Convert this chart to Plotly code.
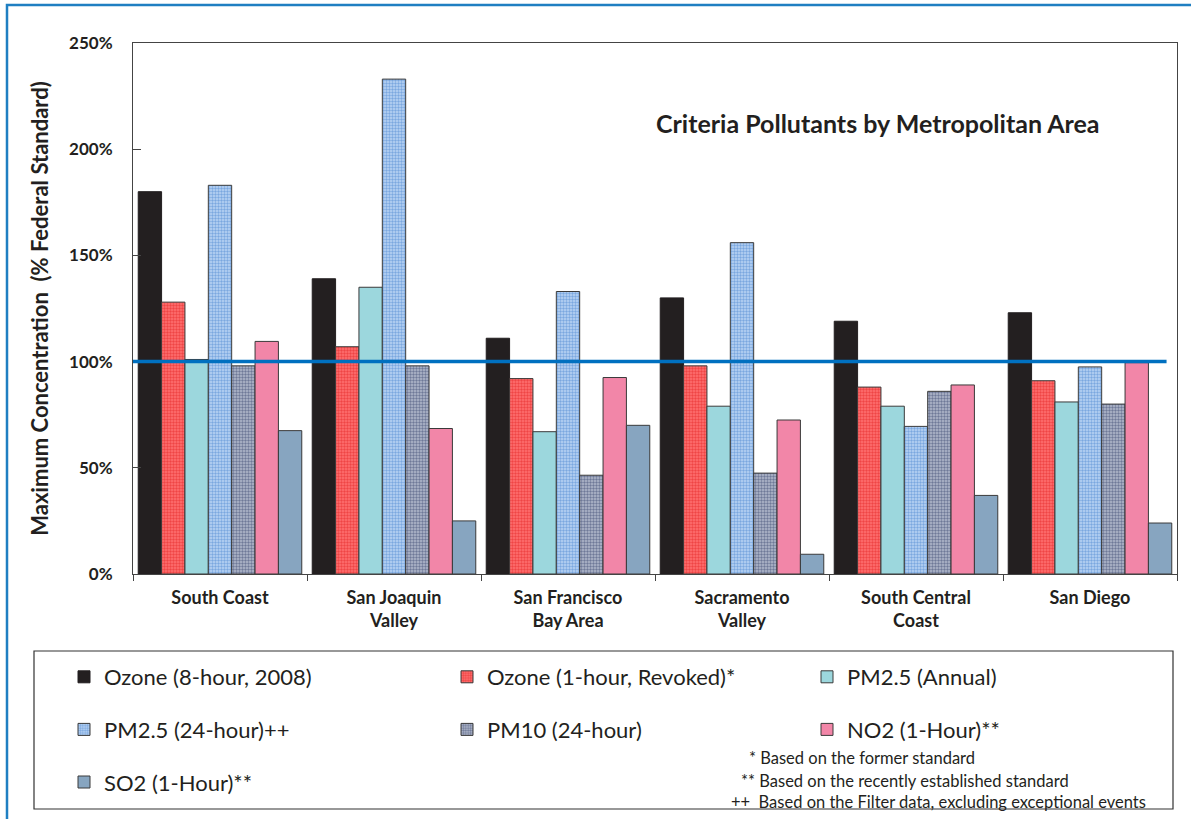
import plotly.graph_objects as go

categories = ["South Coast", "San Joaquin<br>Valley", "San Francisco<br>Bay Area",
              "Sacramento<br>Valley", "South Central<br>Coast", "San Diego"]

ozone_8hr = [180, 139, 111, 130, 119, 123]
ozone_1hr = [128, 107, 92, 98, 88, 91]
pm25_annual = [101, 135, 67, 79, 79, 81]
pm25_24hr = [183, 233, 133, 156, 69.5, 97.5]
pm10_24hr = [98, 98, 46.5, 47.5, 86, 80]
no2_1hr = [109.5, 68.5, 92.5, 72.5, 89, 99.5]
so2_1hr = [67.5, 25, 70, 9.3, 37, 24]

series_names = ["Ozone (8-hour, 2008)", "Ozone (1-hour, Revoked)*", "PM2.5 (Annual)",
                "PM2.5 (24-hour)++", "PM10 (24-hour)", "NO2 (1-Hour)**", "SO2 (1-Hour)**"]

standard_level = 100
y_tick_vals = [0, 50, 100, 150, 200, 250]
y_tick_text = ["0%", "50%", "100%", "150%", "200%", "250%"]

footnotes = ["* Based on the former standard",
             "** Based on the recently established standard",
             "++  Based on the Filter data, excluding exceptional events"]

TXT = "#231f20"
FONT = "Lato"
OUT = "#3a3a3a"

styles = [
    dict(color="#231f20", line=dict(color="#231f20", width=1)),
    dict(color="#ff5050", line=dict(color=OUT, width=1),
         pattern=dict(shape=".", fgcolor="#e01818", bgcolor="#ff7272", size=3, solidity=0.5)),
    dict(color="#9cd7dd", line=dict(color=OUT, width=1)),
    dict(color="#a8c8ee", line=dict(color=OUT, width=1),
         pattern=dict(shape=".", fgcolor="#3a78cc", bgcolor="#bcd6f3", size=3, solidity=0.5)),
    dict(color="#8a93b0", line=dict(color=OUT, width=1),
         pattern=dict(shape=".", fgcolor="#2c3864", bgcolor="#b3bbcd", size=3, solidity=0.5)),
    dict(color="#f286a8", line=dict(color=OUT, width=1)),
    dict(color="#87a5c0", line=dict(color=OUT, width=1)),
]
legend_of = ["legend", "legend2", "legend3", "legend", "legend2", "legend3", "legend"]
values = [ozone_8hr, ozone_1hr, pm25_annual, pm25_24hr, pm10_24hr, no2_1hr, so2_1hr]

fig = go.Figure()
for i, (name, vals) in enumerate(zip(series_names, values)):
    fig.add_trace(go.Bar(x=categories, y=vals, name=name, marker=styles[i],
                         legend=legend_of[i], legendgroup=f"g{i}"))

W, H = 1191, 819
L, R, T, B = 133, 14, 43, 245
pw, ph = W - L - R, H - T - B


def px(x):
    return (x - L) / pw


def py(y):
    return (H - B - y) / ph


leg_common = dict(orientation="v", xanchor="left", yanchor="top", traceorder="grouped",
                  tracegroupgap=21, font=dict(family=FONT, size=22, color=TXT),
                  bgcolor="rgba(0,0,0,0)", borderwidth=0, itemwidth=30)

fig.update_layout(
    width=W, height=H,
    margin=dict(l=L, r=R, t=T, b=B, autoexpand=False),
    paper_bgcolor="white", plot_bgcolor="white",
    barmode="group", bargap=0.06, bargroupgap=0,
    font=dict(family=FONT, color=TXT),
    legend=dict(x=px(64), y=py(656), **leg_common),
    legend2=dict(x=px(447), y=py(656), **leg_common),
    legend3=dict(x=px(807), y=py(656), **leg_common),
    xaxis=dict(type="category", showline=True, linecolor="#444444", linewidth=1, mirror=True,
               ticks="outside", ticklen=6, tickcolor="#444444", tickson="boundaries",
               tickfont=dict(family=FONT, size=18, color=TXT, weight="bold"),
               ticklabelstandoff=7, showgrid=False, automargin=False),
    yaxis=dict(range=[0, 250], tickmode="array", tickvals=y_tick_vals, ticktext=y_tick_text,
               showline=True, linecolor="#444444", linewidth=1, mirror=True,
               ticks="inside", ticklen=8, tickcolor="#444444", showgrid=False,
               zeroline=False, automargin=False,
               tickfont=dict(family=FONT, size=17, color=TXT, weight="bold"),
               ticklabelstandoff=16,
               title=dict(text="Maximum Concentration  (% Federal Standard)",
                          font=dict(family=FONT, size=22, color=TXT, weight="bold"),
                          standoff=14)),
    annotations=[
        dict(text="Criteria Pollutants by Metropolitan Area", x=px(878), y=py(123),
             xref="paper", yref="paper", showarrow=False, xanchor="center", yanchor="middle",
             font=dict(family=FONT, size=25, color=TXT, weight="bold")),
    ] + [
        dict(text=t, x=px(xx), y=py(yy), xref="paper", yref="paper", showarrow=False,
             xanchor="left", yanchor="middle", font=dict(family=FONT, size=16.5, color=TXT))
        for t, xx, yy in zip(footnotes, [747, 739, 729], [758, 781, 802])
    ],
    shapes=[
        dict(type="line", xref="paper", yref="y", x0=0, x1=0.99,
             y0=standard_level, y1=standard_level, line=dict(color="#0070c0", width=3.5),
             layer="above"),
        dict(type="rect", xref="paper", yref="paper", x0=px(34), x1=px(1173),
             y0=py(809), y1=py(651), line=dict(color="#333333", width=1.2)),
        dict(type="rect", xref="paper", yref="paper", x0=px(7), x1=px(1196),
             y0=py(840), y1=py(5), line=dict(color="#1f7fc2", width=2.5)),
    ],
)

fig.write_html("out.html", config={"displayModeBar": False},
               post_script="document.body.style.margin='0px';document.body.style.overflow='hidden';")
